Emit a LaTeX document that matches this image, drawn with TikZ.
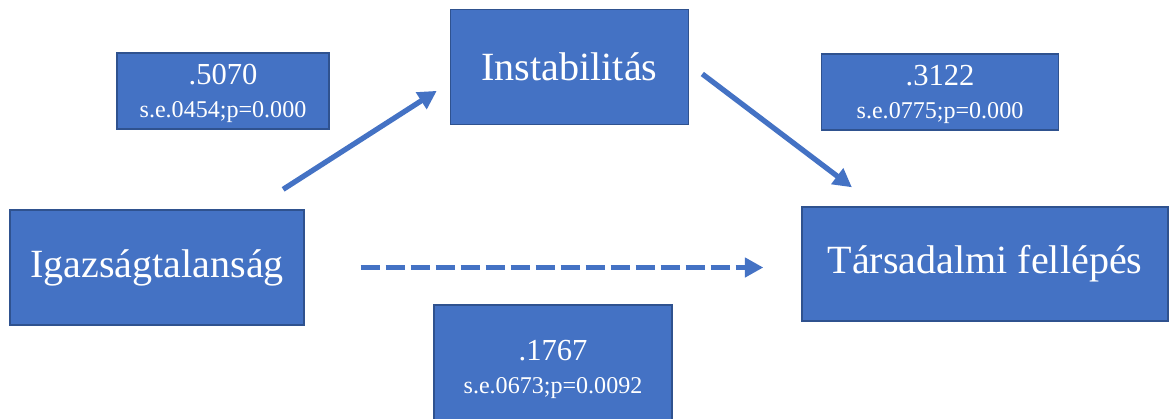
\documentclass[tikz,border=0pt]{standalone}
\usepackage{fontspec}
\setmainfont{Liberation Serif}
\usepackage{xcolor}
\usetikzlibrary{arrows.meta}
\definecolor{boxblue}{HTML}{4472C4}
\definecolor{boxline}{HTML}{2F528F}
\newcommand{\sevalue}[1]{{\fontsize{13.7}{18.5}\selectfont #1}}

\begin{document}
\begin{tikzpicture}[x=0.02cm, y=-0.02cm, block/.style = {rectangle, draw=boxline, line width=0.8pt, fill=boxblue, text=white, inner sep=0pt, align=center, font=\fontsize{22.8}{27}\selectfont}, est/.style = {rectangle, draw=boxline, line width=0.8pt, fill=boxblue, text=white, inner sep=0pt, align=center, text depth=0pt, font=\fontsize{17.4}{18.5}\selectfont}, path/.style = {draw=boxblue, line width=3pt, -{Triangle[length=0.37cm, width=0.38cm]}}]
        \useasboundingbox (0, 0) rectangle (1170, 419);
        \clip (0, 0) rectangle (1170, 419);
        \draw (157, 267.5) node[block, minimum width=5.88cm, minimum height=2.3cm] (A) {Igazságtalanság};
        \draw (569.5, 67) node[block, minimum width=4.76cm, minimum height=2.3cm] (B) {Instabilitás};
        \draw (985, 264) node[block, minimum width=7.32cm, minimum height=2.28cm] (C) {Társadalmi fellépés};

        \draw (223, 91) node[est, minimum width=4.24cm, minimum height=1.52cm] (ab) {.5070\\\sevalue{s.e.0454;p=0.000}};
        \draw (940, 92) node[est, minimum width=4.74cm, minimum height=1.52cm] (bc) {.3122\\\sevalue{s.e.0775;p=0.000}};
        \draw (553, 367) node[est, minimum width=4.76cm, minimum height=2.48cm] (ac) {.1767\\\sevalue{s.e.0673;p=0.0092}};

        \draw[path, shorten <=0.74cm, shorten >=0.31cm] ([xshift=1.9cm]A.north) -- ([yshift=-0.31cm]B.west);
        \draw[path, shorten <=0.33cm, shorten >=0.63cm] ([yshift=0.06cm]B.east) -- ([xshift=-2.16cm]C.north);
        \draw[path, dash pattern=on 0.38cm off 0.12cm, shorten <=1.12cm, shorten >=0.76cm] (A.east) -- (A.east -| C.west);
      \end{tikzpicture}
\end{document}
